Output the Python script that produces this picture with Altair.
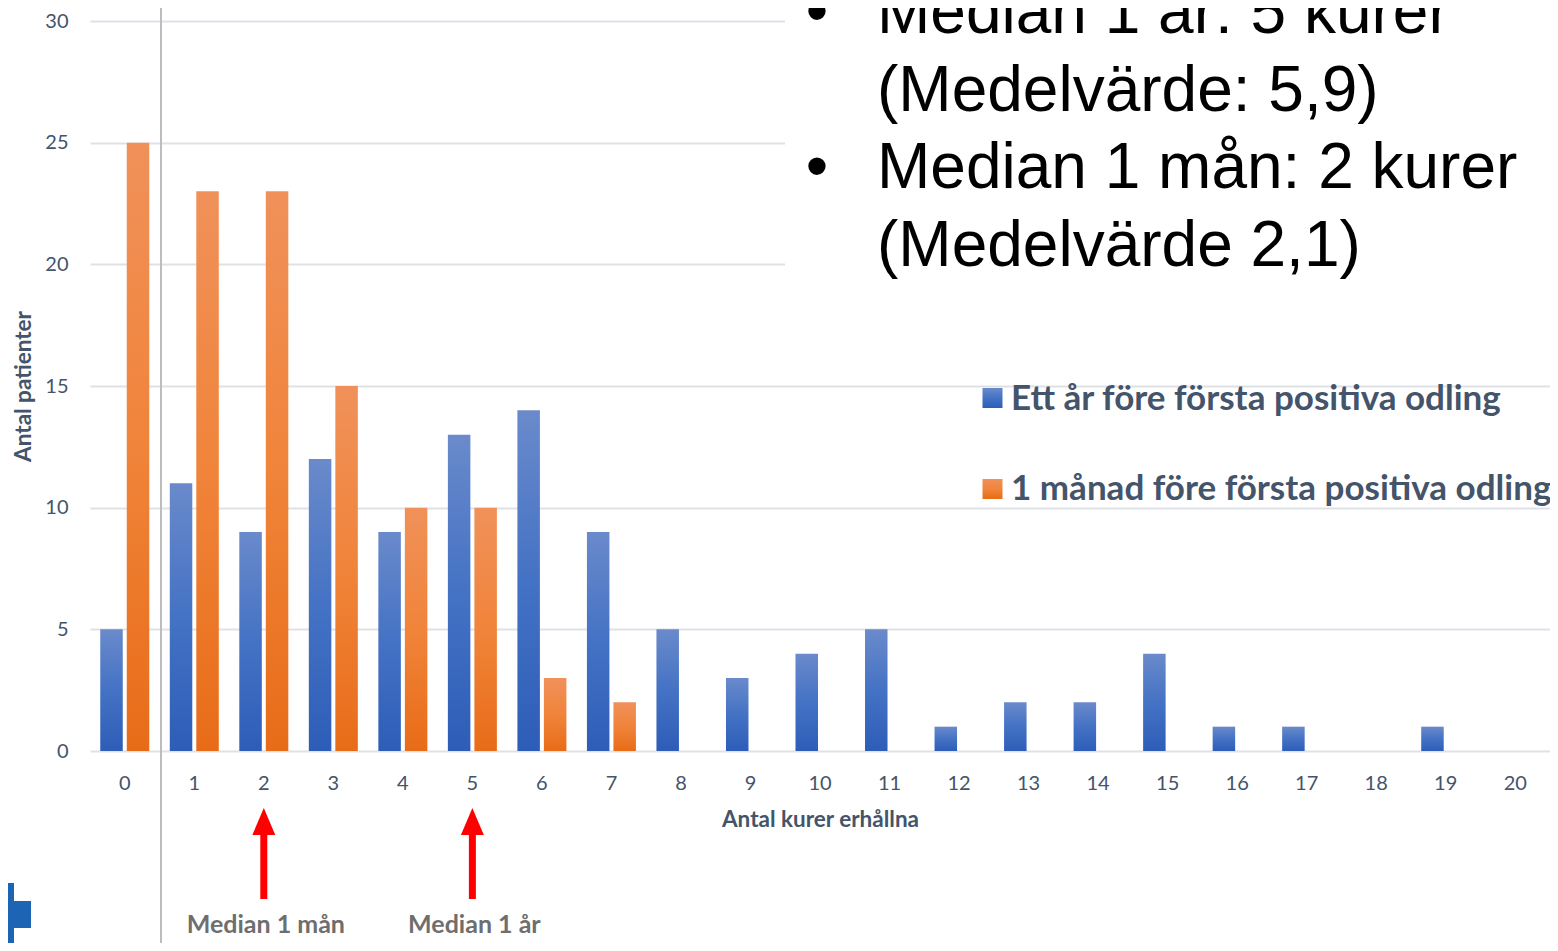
import altair as alt
import pandas as pd

# ---------------- data ----------------
categories = [str(i) for i in range(21)]
year_values = [5, 11, 9, 12, 9, 13, 14, 9, 5, 3, 4, 5, 1, 2, 2, 4, 1, 1, 0, 1, 0]
month_values = [25, 23, 23, 15, 10, 10, 3, 2, 0, 0, 0, 0, 0, 0, 0, 0, 0, 0, 0, 0, 0]
series_names = ["Ett år före första positiva odling", "1 månad före första positiva odling"]
y_ticks = [0, 5, 10, 15, 20, 25, 30]
bullet_lines = ["Median 1 år: 5 kurer", "(Medelvärde: 5,9)", "Median 1 mån: 2 kurer", "(Medelvärde 2,1)"]
median_cats = ["2", "5"]
median_labels = ["Median 1 mån", "Median 1 år"]

TXT = "#44546A"
GRID = "#DEE2E7"

df_year = pd.DataFrame({"kurer": categories, "antal": year_values, "serie": series_names[0]})
df_month = pd.DataFrame({"kurer": categories, "antal": month_values, "serie": series_names[1]})
df_med = pd.DataFrame({"kurer": median_cats, "label": median_labels})
one = pd.DataFrame({"a": [0]})

grad_blue = alt.Gradient(gradient="linear", x1=0, x2=0, y1=0, y2=1,
                         stops=[alt.GradientStop(color="#6A8ACB", offset=0),
                                alt.GradientStop(color="#4472C4", offset=0.5),
                                alt.GradientStop(color="#2E5DB8", offset=1)])
grad_orange = alt.Gradient(gradient="linear", x1=0, x2=0, y1=0, y2=1,
                           stops=[alt.GradientStop(color="#F0915A", offset=0),
                                  alt.GradientStop(color="#F0843A", offset=0.5),
                                  alt.GradientStop(color="#E86C18", offset=1)])

x_enc = alt.X("kurer:N", sort=categories,
              scale=alt.Scale(domain=categories, paddingInner=0, paddingOuter=0),
              axis=alt.Axis(title="Antal kurer erhållna", labelAngle=0, ticks=False, tickSize=0,
                            domain=False, grid=False, labelPadding=22,
                            labelFont="Lato", labelFontSize=20, labelColor=TXT,
                            titleFont="Lato", titleFontSize=22.5, titleFontWeight="bold",
                            titleColor=TXT, titlePadding=15))
y_enc = alt.Y("antal:Q", scale=alt.Scale(domain=[0, 30], nice=False),
              axis=alt.Axis(values=y_ticks, title="Antal patienter", ticks=False, tickSize=0,
                            domain=False, grid=True, gridColor=GRID, gridWidth=2,
                            labelPadding=22, labelFont="Lato", labelFontSize=20, labelColor=TXT,
                            titleFont="Lato", titleFontSize=22.5, titleFontWeight="bold",
                            titleColor=TXT, titlePadding=9))
xoff = alt.XOffset("serie:N", scale=alt.Scale(domain=series_names, paddingInner=0.151, paddingOuter=0.387))

bars_year = alt.Chart(df_year).mark_bar(fill=grad_blue).encode(x=x_enc, xOffset=xoff, y=y_enc)
bars_month = alt.Chart(df_month).mark_bar(fill=grad_orange).encode(x=x_enc, xOffset=xoff, y=y_enc)

white_box = alt.Chart(one).mark_rect(fill="white").encode(
    x=alt.value(695), x2=alt.value(1470), y=alt.value(-21), y2=alt.value(281))

vline = alt.Chart(one).mark_rule(color="#BDBDBD", strokeWidth=2).encode(
    x=alt.value(71), y=alt.value(-21), y2=alt.value(935))

big_text = alt.Chart(pd.DataFrame({"t": ["\n".join(bullet_lines)]})).mark_text(
    align="left", baseline="alphabetic", font="Liberation Sans", fontSize=64,
    lineBreak="\n", lineHeight=77.5, color="black").encode(
    x=alt.value(787), y=alt.value(12), text="t:N")
bullet1 = alt.Chart(pd.DataFrame({"t": ["•"]})).mark_text(
    align="center", baseline="alphabetic", font="Liberation Sans", fontSize=64,
    color="black").encode(x=alt.value(727), y=alt.value(12), text="t:N")
bullet2 = alt.Chart(pd.DataFrame({"t": ["•"]})).mark_text(
    align="center", baseline="alphabetic", font="Liberation Sans", fontSize=64,
    color="black").encode(x=alt.value(727), y=alt.value(167), text="t:N")

leg_sq_blue = alt.Chart(one).mark_point(shape="square", size=400, filled=True, fill=grad_blue, opacity=1).encode(
    x=alt.value(902.5), y=alt.value(377))
leg_sq_orange = alt.Chart(one).mark_point(shape="square", size=400, filled=True, fill=grad_orange, opacity=1).encode(
    x=alt.value(902.5), y=alt.value(468))
leg_txt_blue = alt.Chart(pd.DataFrame({"t": [series_names[0]]})).mark_text(
    align="left", baseline="middle", font="Lato", fontWeight="bold", fontSize=35, color=TXT).encode(
    x=alt.value(921), y=alt.value(378), text="t:N")
leg_txt_orange = alt.Chart(pd.DataFrame({"t": [series_names[1]]})).mark_text(
    align="left", baseline="middle", font="Lato", fontWeight="bold", fontSize=35, color=TXT).encode(
    x=alt.value(921), y=alt.value(468), text="t:N")

arrow_shaft = alt.Chart(df_med).mark_rule(color="#FF0000", strokeWidth=7).encode(
    x=x_enc, y=alt.value(812), y2=alt.value(878))
arrow_head = alt.Chart(df_med).mark_point(
    shape="M0,-1L0.85,1L-0.85,1Z", size=729, filled=True, color="#FF0000", opacity=1).encode(
    x=x_enc, y=alt.value(800.5))
arrow_lbl = alt.Chart(df_med).mark_text(
    font="Lato", fontWeight="bold", fontSize=25, color="#6E6E6E", baseline="middle", dx=2).encode(
    x=x_enc, y=alt.value(904), text="label:N")

logo_v = alt.Chart(one).mark_rect(fill="#1E64B4").encode(
    x=alt.value(-82), x2=alt.value(-76), y=alt.value(862), y2=alt.value(922))
logo_h = alt.Chart(one).mark_rect(fill="#1E64B4").encode(
    x=alt.value(-82), x2=alt.value(-59), y=alt.value(880), y2=alt.value(907))

chart = alt.layer(
    bars_year, bars_month, white_box, vline, big_text, bullet1, bullet2,
    leg_sq_blue, leg_sq_orange, leg_txt_blue, leg_txt_orange,
    arrow_shaft, arrow_head, arrow_lbl, logo_v, logo_h
).properties(
    width=1460, height=730,
    autosize=alt.AutoSizeParams(type="none"),
    padding={"left": 82, "top": 13, "right": 0, "bottom": 192},
    background="white"
).configure_view(stroke=None)

chart.save("out.html", embed_options={"renderer": "svg", "actions": False})
